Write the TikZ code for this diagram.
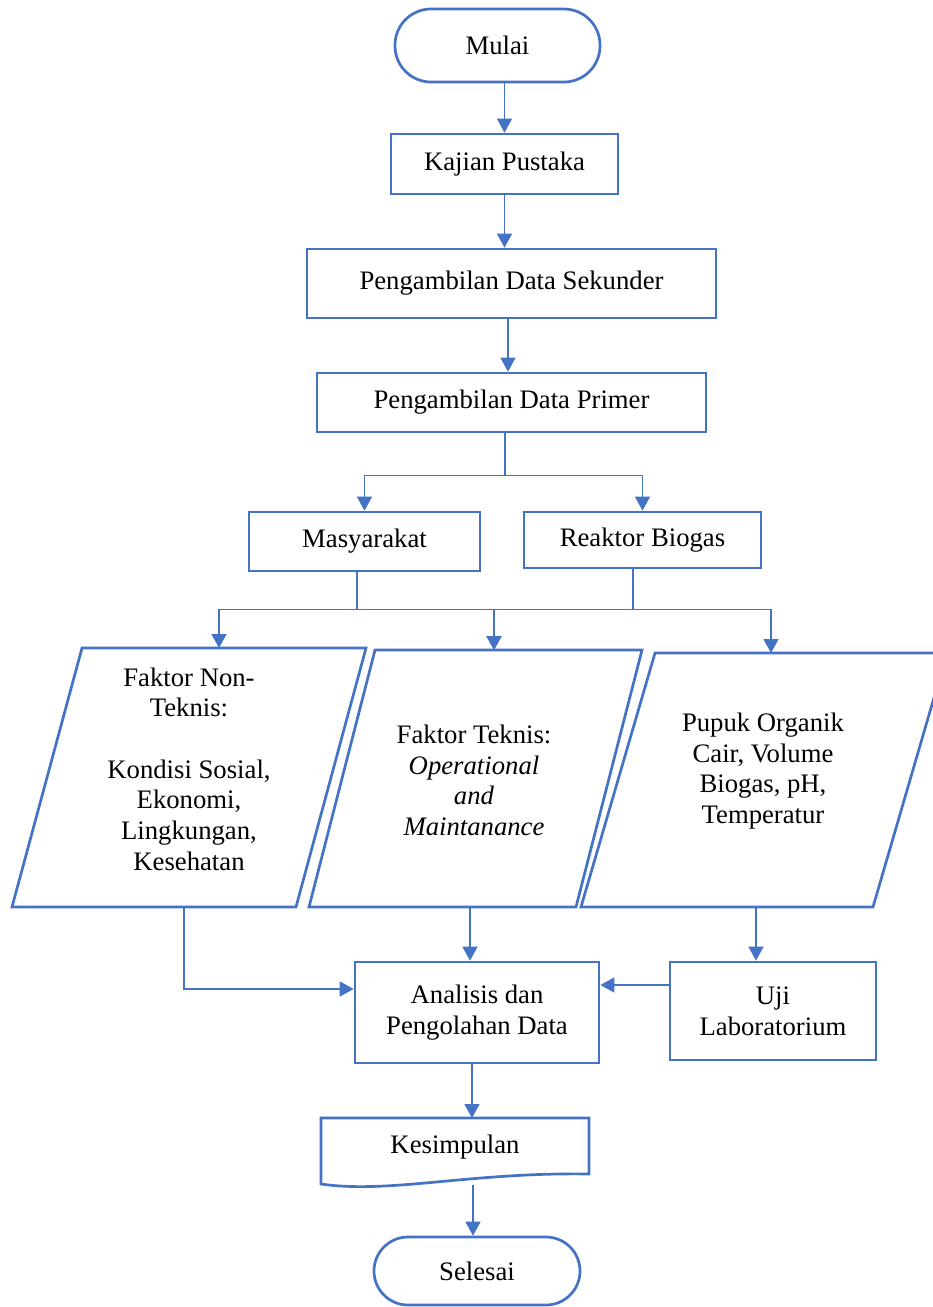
\documentclass[tikz,border=0pt]{standalone}
\usepackage{fontspec}
\setmainfont{Liberation Serif}
\usetikzlibrary{arrows.meta,calc}
\definecolor{wblue}{HTML}{4472C4}
\begin{document}
\begin{tikzpicture}[x=1pt,y=-1pt,
  every node/.style={font=\fontsize{26.7}{30.7}\selectfont, text=black},
  boxst/.style={draw=wblue, line width=2.7pt, inner sep=0pt, align=center},
  shapest/.style={draw=wblue, line width=2.7pt, line join=miter},
  arr/.style={draw=wblue, line width=1.4pt, -{Triangle[width=15pt,length=14pt]}},
  ln/.style={draw=wblue, line width=1.4pt}]
\path[use as bounding box, fill=white] (0,0) rectangle (933,1307);

% terminals and boxes
\node[boxst, minimum width=205pt, minimum height=73pt, rounded corners=36pt] (mulai) at (497.5,45.5) {Mulai};
\node[boxst, minimum width=227pt, minimum height=60pt] (kajian) at (504.5,164) {Kajian Pustaka};
\node[boxst, minimum width=409pt, minimum height=69pt] (sekunder) at (511.5,283.5) {Pengambilan Data Sekunder};
\node[boxst, minimum width=389pt, minimum height=59pt] (primer) at (511.5,402.5) {Pengambilan Data Primer};
\node[boxst, minimum width=231pt, minimum height=59pt] (masy) at (364.5,541.5) {Masyarakat};
\node[boxst, minimum width=237pt, minimum height=56pt] (reaktor) at (642.5,540) {Reaktor Biogas};

% parallelograms
\draw[shapest] (82,648) -- (366,648) -- (296,907) -- (12,907) -- cycle;
\draw[shapest] (375,650) -- (642,650) -- (576,907) -- (309,907) -- cycle;
\draw[shapest] (655,653) -- (947,653) -- (873,907) -- (581,907) -- cycle;
\coordinate (p1in) at (219,648);
\coordinate (p1out) at (184,907);
\coordinate (p2in) at (494,650);
\coordinate (p2out) at (470,907);
\coordinate (p3in) at (771,653);
\coordinate (p3out) at (756,907);
\node[align=center] (t1) at (189,769) {Faktor Non-\\Teknis:\\~\\Kondisi Sosial,\\Ekonomi,\\Lingkungan,\\Kesehatan};
\node[align=center] (t2) at (474,780.5) {Faktor Teknis:\\\textit{Operational}\\\textit{and}\\\textit{Maintanance}};
\node[align=center] (t3) at (763,771) {Pupuk Organik\\Cair, Volume\\Biogas, pH,\\Temperatur};

\node[boxst, minimum width=244pt, minimum height=101pt] (analisis) at (477,1012.5) {Analisis dan\\Pengolahan Data};
\node[boxst, minimum width=206pt, minimum height=98pt] (uji) at (773,1011) {Uji\\Laboratorium};

% document shape
\draw[shapest] (321,1118) -- (589,1118) -- (589,1174) .. controls (470,1172) and (390,1194) .. (321,1184) -- cycle;
\node (kes) at (455,1147) {Kesimpulan};
\coordinate (kin) at (472,1118);
\coordinate (kout) at (473,1185);

\node[boxst, minimum width=206pt, minimum height=68pt, rounded corners=34pt] (selesai) at (477,1271) {Selesai};

% connectors
\draw[arr] (mulai.south -| kajian.north) -- (kajian.north);
\draw[arr] (kajian.south) -- (kajian.south |- sekunder.north);
\draw[arr] ([xshift=-3.5pt]sekunder.south) -- ([xshift=-3.5pt]sekunder.south |- primer.north);
\draw[ln] ([xshift=-6.5pt]primer.south) -- ++(0,42) coordinate (b1);
\draw[arr] (b1) -| (masy.north);
\draw[arr] (b1) -| (reaktor.north);
\draw[ln] ([xshift=-7.5pt]masy.south) -- ++(0,37) coordinate (b2);
\draw[arr] (b2) -| (p1in);
\draw[arr] (b2) -| (p2in);
\draw[ln] ([xshift=-9.5pt]reaktor.south) -- ++(0,40) coordinate (b3);
\draw[arr] (b3) -| (p2in);
\draw[arr] (b3) -| (p3in);
\draw[arr] (p1out) |- ([yshift=23.5pt]analisis.west);
\draw[arr] (p2out) -- (p2out |- analisis.north);
\draw[arr] (p3out) -- (p3out |- uji.north);
\draw[arr] ([yshift=26pt]uji.west) -- ([yshift=26pt]uji.west -| analisis.east);
\draw[arr] (analisis.south -| kin) -- (kin);
\draw[arr] (kout) -- (kout |- selesai.north);
\end{tikzpicture}
\end{document}
